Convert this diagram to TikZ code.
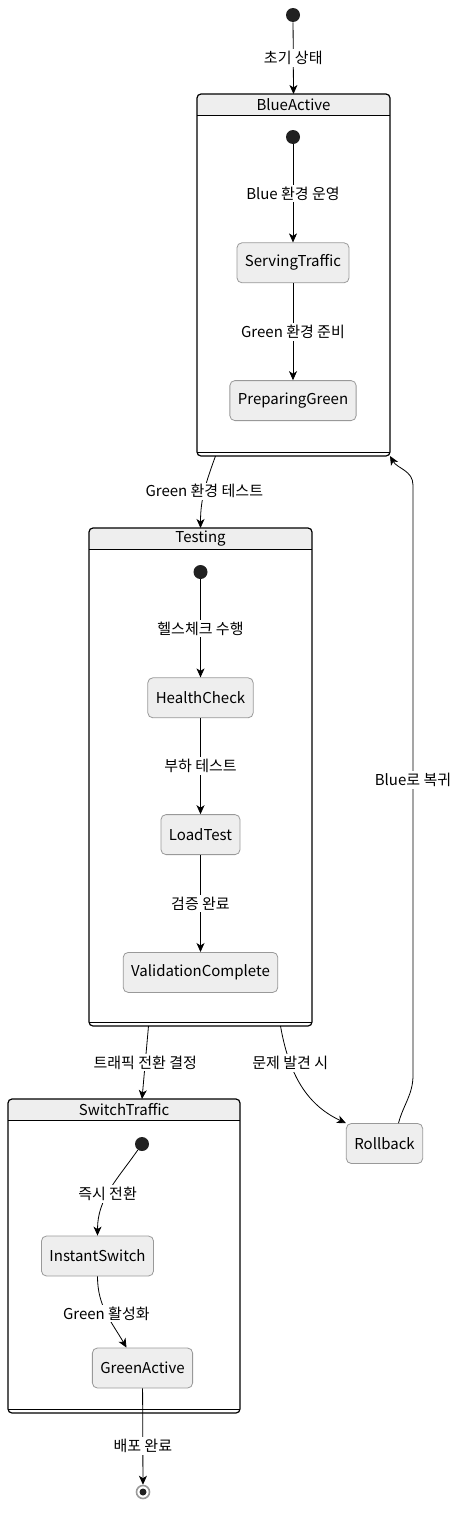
\documentclass[tikz,border=0pt]{standalone}
\usepackage{fontspec}
\setmainfont{Noto Sans CJK KR}
\usetikzlibrary{positioning}
\usetikzlibrary{arrows.meta}
\definecolor{statefill}{HTML}{EEEEEE}
\definecolor{stateline}{HTML}{999999}

\begin{document}
\begin{tikzpicture}[x=1pt, y=-1pt, thick, font=\fontsize{15}{17}\selectfont,
        >={Stealth[length=9pt, width=8pt, inset=2.5pt]},
        state/.style={draw=stateline, fill=statefill, rounded corners=5pt, minimum height=40pt, inner xsep=8pt},
        start/.style={circle, fill=black!87, minimum size=14pt, inner sep=0},
        comp/.style={inner sep=0, outer sep=0},
        lbl/.style={fill=white, inner sep=2pt}]
        \useasboundingbox (0,0) rectangle (470,1531);
        % composite states
        \node [comp, minimum width=193pt, minimum height=362pt] (blueactive) at (293.5,275) {};
        \node [comp, minimum width=223pt, minimum height=498pt] (testing) at (200.5,777) {};
        \node [comp, minimum width=232pt, minimum height=314pt] (switchtraffic) at (124,1256) {};
        \foreach \c/\t in {blueactive/BlueActive, testing/Testing, switchtraffic/SwitchTraffic} {
            \begin{scope}
                \clip [rounded corners=4pt] (\c.north west) rectangle (\c.south east);
                \fill [statefill] (\c.north west) rectangle ([yshift=-21pt]\c.north east);
            \end{scope}
            \draw [line width=1.2pt, rounded corners=4pt] (\c.north west) rectangle (\c.south east);
            \draw ([yshift=-21pt]\c.north west) -- ([yshift=-21pt]\c.north east);
            \draw [line width=1pt] ([yshift=4pt]\c.south west) -- ([yshift=4pt]\c.south east);
            \node (\c-title) at ([yshift=-11pt]\c.north) {\t};
        }
        \node [start] (start0) at (293,15) {};
        % BlueActive
        \node [start] (bstart) at (293,137) {};
        \node [state, below = 98pt of bstart] (servingtraffic) {ServingTraffic};
        \node [state, below = 97pt of servingtraffic] (preparinggreen) {PreparingGreen};
        % Testing
        \node [start] (tstart) at (200.5,572) {};
        \node [state, below = 98pt of tstart] (healthcheck) {HealthCheck};
        \node [state, below = 96pt of healthcheck] (loadtest) {LoadTest};
        \node [state, below = 97pt of loadtest] (validationcomplete) {ValidationComplete};
        % SwitchTraffic
        \node [start] (sstart) at (142,1144) {};
        \node [state] (instantswitch) at (97.5,1256) {InstantSwitch};
        \node [state] (greenactive) at (142.5,1368) {GreenActive};
        \node [state] (rollback) at (384.5,1143.5) {Rollback};
        \node [circle, draw=stateline, line width=1.6pt, minimum size=13pt, inner sep=0] (finish) at (143,1492) {};
        \fill [black!87] (finish.center) circle (3.5pt);
        \draw[->] (start0) -- node [lbl] {초기 상태} (blueactive.north);
        \draw[->] (bstart) -- node [lbl] {Blue 환경 운영} (servingtraffic);
        \draw[->] (servingtraffic) -- node [lbl] {Green 환경 준비} (preparinggreen);
        \draw[->] ([xshift=-78pt]blueactive.south) to[out=-110, in=90] node [lbl] {Green 환경 테스트} (testing.north);
        \draw[->] (tstart) -- node [lbl] {헬스체크 수행} (healthcheck);
        \draw[->] (healthcheck) -- node [lbl] {부하 테스트} (loadtest);
        \draw[->] (loadtest) -- node [lbl] {검증 완료} (validationcomplete);
        \draw[->] ([xshift=-52pt]testing.south) -- node [lbl] {트래픽 전환 결정} ([xshift=18pt]switchtraffic.north);
        \draw[->] ([xshift=80pt]testing.south) to[out=-80, in=155] node [lbl, pos=0.3] {문제 발견 시} (rollback.north west);
        \draw[->] ([xshift=14pt]rollback.north) to[out=75, in=-90] (413,1075) -- node [lbl] {Blue로 복귀} (413,485) to[out=90, in=-60] (blueactive.south east);
        \draw[->] (sstart) to[out=-125, in=90] node [lbl, pos=0.55] {즉시 전환} (instantswitch);
        \draw[->] (instantswitch) to[out=-90, in=120] node [lbl] {Green 활성화} ([xshift=-16pt]greenactive.north);
        \draw[->] (greenactive) -- node [lbl, pos=0.6] {배포 완료} (finish);
    \end{tikzpicture}
\end{document}
